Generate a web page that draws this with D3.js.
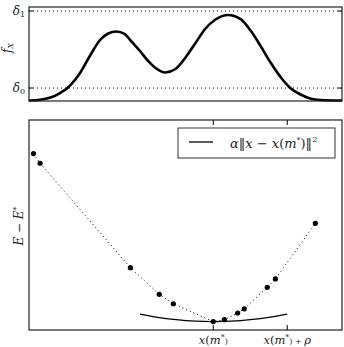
<!DOCTYPE html>
<html><head><meta charset="utf-8">
<script src="https://cdn.jsdelivr.net/npm/d3@7"></script>
<style>body{margin:0;background:#fff}svg{display:block}text{font-family:"DejaVu Serif","Liberation Serif",serif;}</style>
</head><body>
<svg id="c" width="344" height="347"></svg>
<script>
// top panel density curve
const densX = [-2.49,-2.34,-2.20,-2.07,-1.97,-1.87,-1.80,-1.66,-1.53,-1.42,-1.31,-1.20,-1.10,-0.99,-0.88,-0.78,-0.65,-0.51,-0.38,-0.24,-0.11,0.03,0.20,0.37,0.50,0.64,0.77,0.91,1.04,1.18,1.31,1.45,1.74];
const densY = [0.005,0.013,0.037,0.085,0.138,0.223,0.298,0.489,0.649,0.718,0.739,0.713,0.628,0.532,0.426,0.351,0.303,0.340,0.457,0.617,0.766,0.867,0.915,0.872,0.755,0.585,0.415,0.255,0.138,0.069,0.027,0.011,0.005];
const deltaLevels = [0.138, 0.957];
const deltaLabels = ["δ0", "δ1"];
// bottom panel samples
const ptsX = [-2.43,-2.34,-1.12,-0.73,-0.54,0,0.15,0.33,0.42,0.73,0.84,1.38];
const ptsY = [8.40,7.94,2.97,1.70,1.25,0.40,0.49,0.81,1.01,2.03,2.43,5.08];
// quadratic bound alpha||x - x(m*)||^2
const quadX = [-0.99,-0.75,-0.5,-0.25,0,0.25,0.5,0.75,1.0];
const quadY = [0.76,0.60,0.49,0.42,0.40,0.42,0.49,0.60,0.76];
const xTicks = [0, 1];
const xTickLabels = ["x(m*)", "x(m*) + ρ"];

const svg = d3.select("#c");
const L = 29, R = 342;
const x = d3.scaleLinear().domain([-2.49, 1.74]).range([L, R]);
const yT = d3.scaleLinear().domain([0, 1]).range([101, 7]);
const yB = d3.scaleLinear().domain([0, 10]).range([330, 120]);

// ---- top panel
const gT = svg.append("g");
gT.selectAll("line.d").data(deltaLevels).join("line")
  .attr("x1", L).attr("x2", R).attr("y1", d => yT(d)).attr("y2", d => yT(d))
  .attr("stroke", "#000").attr("stroke-width", 1).attr("stroke-dasharray", "1,3");
gT.append("path").datum(densX.map((v,i)=>[v,densY[i]]))
  .attr("d", d3.line().x(d=>x(d[0])).y(d=>yT(d[1])).curve(d3.curveMonotoneX))
  .attr("fill","none").attr("stroke","#000").attr("stroke-width",2.6);
gT.append("rect").attr("x",L).attr("y",7).attr("width",R-L).attr("height",94)
  .attr("fill","none").attr("stroke","#222").attr("stroke-width",1.2);
deltaLevels.forEach((d,i)=>{
  gT.append("line").attr("x1",L).attr("x2",L+4).attr("y1",yT(d)).attr("y2",yT(d)).attr("stroke","#000");
  gT.append("line").attr("x1",R-4).attr("x2",R).attr("y1",yT(d)).attr("y2",yT(d)).attr("stroke","#000");
  const t = gT.append("text").attr("x",25).attr("y",yT(d)+4).attr("text-anchor","end").attr("font-size",12).attr("fill","#222");
  t.append("tspan").attr("font-style","italic").text(deltaLabels[i][0]);
  t.append("tspan").attr("font-size",8).attr("dy",2).text(deltaLabels[i][1]);
});
const fl = gT.append("text").attr("transform","translate(11,48) rotate(-90)").attr("text-anchor","middle").attr("font-size",12).attr("fill","#222");
fl.append("tspan").attr("font-style","italic").text("f");
fl.append("tspan").attr("font-style","italic").attr("font-size",8).attr("dy",2).text("X");

// ---- bottom panel
const gB = svg.append("g");
const pts = ptsX.map((v,i)=>[v,ptsY[i]]);
gB.append("path").datum(pts)
  .attr("d", d3.line().x(d=>x(d[0])).y(d=>yB(d[1])))
  .attr("fill","none").attr("stroke","#000").attr("stroke-width",1).attr("stroke-dasharray","1,3");
gB.append("path").datum(quadX.map((v,i)=>[v,quadY[i]]))
  .attr("d", d3.line().x(d=>x(d[0])).y(d=>yB(d[1])).curve(d3.curveNatural))
  .attr("fill","none").attr("stroke","#000").attr("stroke-width",1.3);
gB.selectAll("circle").data(pts).join("circle")
  .attr("cx",d=>x(d[0])).attr("cy",d=>yB(d[1])).attr("r",2.6).attr("fill","#000");
gB.append("rect").attr("x",L).attr("y",120).attr("width",R-L).attr("height",210)
  .attr("fill","none").attr("stroke","#222").attr("stroke-width",1.2);
xTicks.forEach((t,i)=>{
  gB.append("line").attr("x1",x(t)).attr("x2",x(t)).attr("y1",330).attr("y2",325).attr("stroke","#000");
  gB.append("line").attr("x1",x(t)).attr("x2",x(t)).attr("y1",120).attr("y2",125).attr("stroke","#000");
});
// tick labels with italics
function xLabel(cx, parts){
  const t = gB.append("text").attr("x",cx).attr("y",344).attr("text-anchor","middle").attr("font-size",11.5).attr("fill","#222");
  parts.forEach(p=>{
    const s = t.append("tspan").text(p[0]);
    if(p[1]) s.attr("font-style","italic");
    if(p[2]) s.attr("font-size",8).attr("dy",p[2]);
  });
}
xLabel(x(xTicks[0]), [["x",1],["(",0],["m",1],["*",0,-4],[")",0,4]]);
xLabel(x(xTicks[1]), [["x",1],["(",0],["m",1],["*",0,-4],[") + ",0,4],["ρ",1]]);

const el = gB.append("text").attr("transform","translate(23,226) rotate(-90)").attr("text-anchor","middle").attr("font-size",12).attr("fill","#222");
el.append("tspan").attr("font-style","italic").text("E");
el.append("tspan").text(" − ");
el.append("tspan").attr("font-style","italic").text("E");
el.append("tspan").attr("font-size",8).attr("dy",-4).text("*");

// legend
const lg = gB.append("g");
lg.append("rect").attr("x",178).attr("y",128).attr("width",157).attr("height",30)
  .attr("fill","#fff").attr("stroke","#333").attr("stroke-width",1);
lg.append("line").attr("x1",189).attr("x2",213).attr("y1",142).attr("y2",142).attr("stroke","#000").attr("stroke-width",1.3);
const lt = lg.append("text").attr("x",230).attr("y",148).attr("font-size",13).attr("fill","#222");
lt.append("tspan").attr("font-style","italic").text("α");
lt.append("tspan").text("‖");
lt.append("tspan").attr("font-style","italic").text("x");
lt.append("tspan").text(" − ");
lt.append("tspan").attr("font-style","italic").text("x");
lt.append("tspan").text("(");
lt.append("tspan").attr("font-style","italic").text("m");
lt.append("tspan").attr("font-size",8).attr("dy",-5).text("*");
lt.append("tspan").attr("dy",5).text(")‖");
lt.append("tspan").attr("font-size",8).attr("dy",-6).text("2");
</script>
</body></html>
